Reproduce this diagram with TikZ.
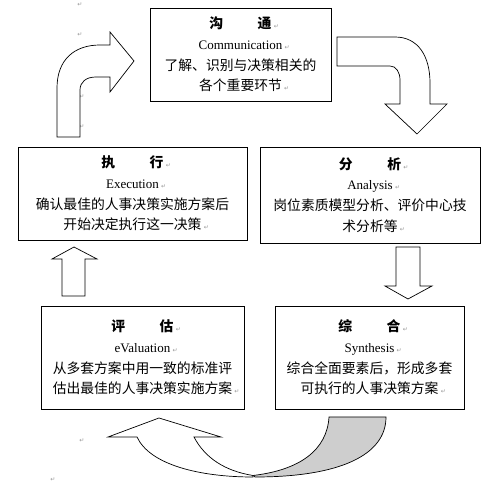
\documentclass[tikz,border=0pt]{standalone}
\usepackage{fontspec}
\setmainfont{Liberation Serif}
\newfontfamily\cjk{Noto Sans CJK SC}
\newfontfamily\markfont{DejaVu Sans}
\definecolor{arrow_gray}{RGB}{206,206,206}
\definecolor{mark_gray}{RGB}{150,150,150}
\newcommand{\pmark}{\rlap{\,\markfont\fontsize{6}{6}\selectfont\textcolor{mark_gray}{↵}}}
\newcommand{\en}[1]{{\rmfamily\fontsize{13}{20.7}\selectfont #1}}

\begin{document}
\begin{tikzpicture}[x=1pt,y=-1pt,line width=0.9pt]
    \tikzstyle{box}=[draw=black, rectangle, align=center, inner sep=0pt, font=\cjk\fontsize{13.8}{20.7}\selectfont, text=black]
    \tikzstyle{blockarrow}=[draw=black, line width=0.7pt, fill=white, line join=miter]
    \tikzstyle{pmark}=[text=mark_gray, font=\markfont\fontsize{6}{6}\selectfont, inner sep=0pt]

    \useasboundingbox (0,0) rectangle (496,486);

    \node[box, minimum width=181pt, minimum height=93pt]  (comm) at (240.5,54.5) {\textbf{沟\hspace{2.5em}通}\pmark\\ \en{Communication}\pmark\\ 了解、识别与决策相关的\\ 各个重要环节\pmark};
    \node[box, minimum width=229pt, minimum height=93pt]  (exec) at (132.5,193.5) {\textbf{执\hspace{2.5em}行}\pmark\\ \en{Execution}\pmark\\ 确认最佳的人事决策实施方案后\\ 开始决定执行这一决策\pmark};
    \node[box, minimum width=220pt, minimum height=96pt]  (anal) at (370,195)     {\textbf{分\hspace{2.5em}析}\pmark\\ \en{Analysis}\pmark\\ 岗位素质模型分析、评价中心技\\ 术分析等\pmark};
    \node[box, minimum width=203pt, minimum height=103pt] (eval) at (142.5,357.5) {\textbf{评\hspace{2.5em}估}\pmark\\ \en{eValuation}\pmark\\ 从多套方案中用一致的标准评\\ 估出最佳的人事决策实施方案\pmark};
    \node[box, minimum width=189pt, minimum height=103pt] (synt) at (369.5,357.5) {\textbf{综\hspace{2.5em}合}\pmark\\ \en{Synthesis}\pmark\\ 综合全面要素后，形成多套\\ 可执行的人事决策方案\pmark};

    % stray paragraph marks
    \node[pmark] (m1) at (80,5)   {↵};
    \node[pmark] (m2) at (80,35)  {↵};
    \node[pmark] (m3) at (82,97)  {↵};
    \node[pmark] (m4) at (82,127) {↵};
    \node[pmark] (m5) at (82,441) {↵};
    \node[pmark] (m6) at (53,480) {↵};

    % bent arrow: execution -> communication
    \draw[blockarrow] (57,137) -- (57,88) .. controls (57,60) and (74,45) .. (100,45) -- (110,45) -- (110,32) -- (134,61)
        -- (110,92) -- (110,77) -- (96,77) .. controls (86,77) and (80,82) .. (80,90) -- (80,137) -- cycle;
    % bent arrow: communication -> analysis
    \draw[blockarrow] (337,37) -- (395,37) .. controls (418,37) and (430,56) .. (430,83) -- (430,104) -- (447,104) -- (417,134)
        -- (385,104) -- (400,104) -- (400,80) .. controls (400,72) and (396,66) .. (390,66) -- (337,66) -- cycle;
    % straight arrows
    \draw[blockarrow] (396,247) -- (420,247) -- (420,286) -- (432,286) -- (408,299) -- (385,286) -- (396,286) -- cycle;
    \draw[blockarrow] (62,296) -- (62,259) -- (52,259) -- (74,247) -- (97,259) -- (85,259) -- (85,296) -- cycle;
    % curved arrow: synthesis -> evaluation
    \draw[blockarrow, fill=arrow_gray] (329,417) .. controls (327,450) and (300,470) .. (253,475.5) -- (255,477)
        .. controls (340,477) and (386,455) .. (386,417) -- cycle;
    \draw[blockarrow] (108,437) -- (159,418) -- (221,437) -- (194,437) .. controls (205,458) and (225,471) .. (253,475.5)
        -- (253,477) .. controls (200,477) and (150,465) .. (137,437) -- cycle;
\end{tikzpicture}
\end{document}
